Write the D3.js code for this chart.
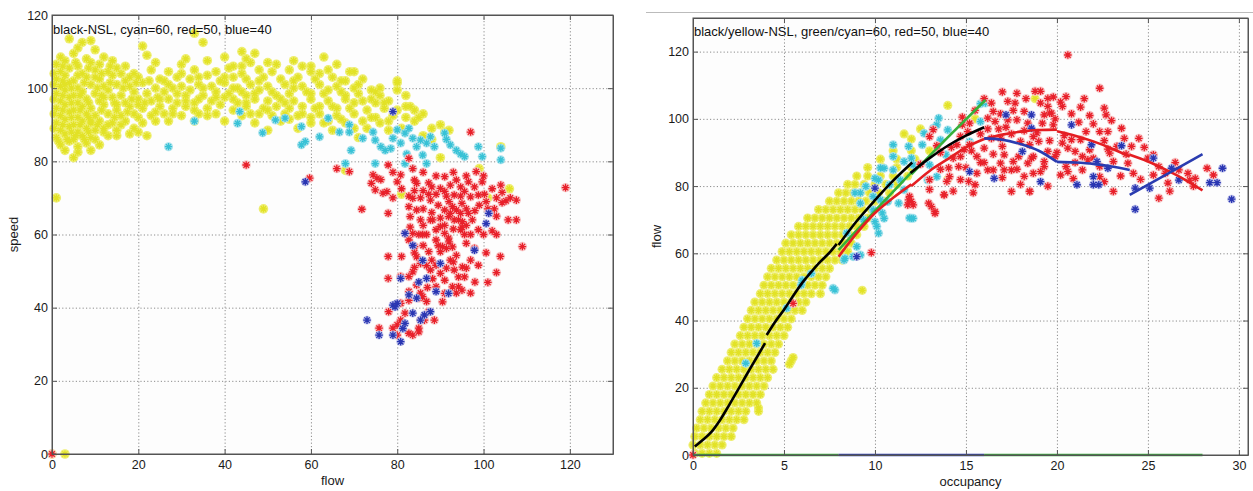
<!DOCTYPE html>
<html><head><meta charset="utf-8">
<script src="https://cdn.jsdelivr.net/npm/d3@7"></script>
<style>body{margin:0;background:#fff}svg{display:block}text{font-family:"Liberation Sans",Arial,sans-serif}</style>
</head><body><svg id="c" width="1253" height="491"></svg>
<script>
// ---------------- LEFT PANEL: flow (x) vs speed (y) ----------------
const leftTitle = "black-NSL, cyan=60, red=50, blue=40";
const leftXTicks = [0,20,40,60,80,100,120];
const leftYTicks = [0,20,40,60,80,100,120];
const speedYellow = [
[4,113.5],[7,112.5],[9,113],[33,115],[35,112.5],[6,111],[10,110.5],[21,111.5],[44,110],[47,109.5],[2,108.5],[5,109.5],[8,108],[12,108.5],[22,109],[31,108],[40,108.5],[45,108],[63,108.5],
[1,106.5],[3,107.5],[6,106],[9,107],[11,106.5],[14,107.5],[17,106],[24,107],[30,106.5],[36,107.5],[42,106],[46,107],[52,106.5],[58,106],[66,106.5],
[2,104.5],[4,105.5],[7,104],[10,105],[13,104.5],[15,105.5],[19,104],[23,105],[27,104.5],[33,105],[38,104.5],[41,105.5],[44,104],[48,105],[51,104.5],[55,105],[60,104.5],[64,105],[70,104.5],
[1,102.5],[3,103.5],[5,102],[8,103],[11,102.5],[14,103.5],[17,102],[20,103],[25,102.5],[29,103],[32,102.5],[36,103.5],[39,102],[42,103],[45,102.5],[49,103],[53,102.5],[57,103],[61,102.5],[65,103],[68,102],[72,102.5],
[2,100.5],[4,101.5],[6,100],[9,101],[12,100.5],[15,101],[18,100.5],[21,101.5],[24,100],[27,101],[30,100.5],[34,101],[37,100.5],[40,101.5],[43,100],[46,101],[50,100.5],[54,101],[58,100.5],[62,101],[66,100.5],[70,100],[74,99.5],[80,101.5],
[1,98.5],[3,99.5],[5,98],[7,99],[10,98.5],[13,99.5],[16,98],[19,99],[22,98.5],[26,99],[29,98.5],[32,99.5],[35,98],[38,99],[41,98.5],[44,99],[47,98.5],[51,99],[55,98.5],[59,99],[63,98.5],[67,99],[71,98.5],[76,98],
[2,96.5],[4,97.5],[6,96],[8,97],[11,96.5],[14,97.5],[17,96],[20,97],[23,96.5],[27,97],[31,96.5],[34,97],[37,96.5],[40,97.5],[43,96],[47,97],[50,96.5],[53,97],[56,96.5],[60,97],[64,96.5],[68,97],[72,96.5],[75,96],[78,96.5],
[1,94.5],[3,95.5],[5,94],[7,95],[9,94.5],[12,95.5],[15,94],[18,95],[21,94.5],[25,95],[28,94.5],[31,95],[36,94.5],[39,95.5],[42,94],[45,95],[49,94.5],[52,95],[55,94.5],[58,95],[61,94.5],[65,95],[69,94.5],[73,94],[77,94.5],[82,95],
[2,92.5],[4,93.5],[6,92],[8,93],[10,92.5],[13,93],[16,92.5],[19,93],[23,92.5],[26,93],[30,92.5],[34,93],[44,92.5],[48,93],[51,92.5],[54,93],[57,92.5],[62,93],[66,92.5],[70,93],[74,92],[79,92.5],[86,93],
[1,90.5],[3,91.5],[5,90],[7,91],[9,90.5],[11,91],[14,90.5],[17,91],[21,90.5],[27,91],[33,91],[47,90.5],[53,91],[60,90.5],[64,91],[68,90.5],[72,91],[76,90.5],[84,91],
[2,88.5],[4,89.5],[6,88],[8,89],[10,88.5],[12,89],[15,88.5],[19,89],[50,88.5],[57,89],[65,88.5],[73,89],[78,88.5],[88,89],[91,88],
[1,86.5],[3,87.5],[5,86],[7,87],[9,86.5],[13,87],[18,87.5],[22,87],[71,86.5],[86,87],
[2,84.5],[4,85.5],[6,84],[8,85],[11,84.5],[3,83],[6,82.5],[9,83],[5,81],
[80,102],[82,98],[83,95],[90,90],[92,88.5],[90,81],[99,78],[104,84],[106,72.5],[101,70],[81,71],[68,77.5],[49,67],[1,70],[0,0],[3,0],
[69,104.5],[75,99],[77,96],[85,92],[88,86],[80,99.5],[60,92],[40,91],[36,92.5]
];
const speedYellowDense = [
[0.5,104],[2.5,106],[5.5,107],[8.5,105.5],[11.5,104],[13.5,106],[16,104],
[0.5,101],[2.5,102],[4.5,100],[7.5,101.5],[10.5,100],[13.5,101.5],[16.5,100],[19.5,101.5],[22.5,102],
[0.5,97],[2.5,98],[4.5,96],[6.5,98],[8.5,96],[11.5,98],[14.5,96],[18.5,97],[21.5,96],[24.5,97.5],
[0.5,93],[2.5,94],[4.5,92],[6.5,94],[8.5,92],[11.5,94],[14.5,92],[17.5,93.5],[20,92],[24,93.5],[28,93],
[0.5,89],[2.5,90],[4.5,88],[6.5,90],[8.5,88],[10.5,90],[13,90],[16,90],[20,88],
[1.5,85.5],[3.5,86],[5.5,87],[7.5,86],[10,86],[12,88],[15,87],
[28,100],[31,98],[33,96],[38,97.5],[42,100],[45,98],[48,99.5],[52,98],[56,100],[60,98.5],[64,99.5],[68,98],[45,96],[50,94],[54,96],[58,93],[62,95],[66,94.5],[70,96],[74,97],[76,100],
[30,104],[34,103],[48,102],[56,102],[62,104],[67,102],[71,101],[25,97],[35,100],[42,97],[38,93],[46,93],[55,91.5],[63,90.5],[67,91.5],[70,89],[75,92],[78,91],[80,94],[82,92],[84,94],[81,89],
[26,102],[18,103],[29,96],[33,94],[24,91],[20,95.5],[10,103],[6,103.5],[3,101],[12,97.5],[15,95.5],[9,91],[40,103],[44,106],[50,107],[56,107.5],[60,106]
];
const speedCyan = [
[27,84],[33,91],[43.5,93.6],[43,90.4],[48.8,87.8],[51.8,91.3],[54,91.8],[57.8,89.5],[57.8,84.5],[58.7,85.4],[62,86.7],[64,91.8],[66.6,88],[68.9,90],[68.9,88],[69.3,83],[68,79.4],
[72,86.3],[74.4,88],[74.9,85.8],[74.9,79.4],[76.2,84],[77.2,83],[78.5,83.5],[79,86.3],[80,88.6],[80.8,85],[81.8,87.7],[82.7,89],[82.2,82],[81.8,79.4],[83.6,86.3],[84.5,84],[85.4,85.8],
[85.9,81.7],[86.8,79.4],[86.8,85],[87.7,86.7],[88.6,84],[91,87.7],[91.4,86],[92.3,84.5],[93.7,83],[94.7,82],[95.6,81.3],[98.8,84],[99.7,81.3],[104,83.6],[104,80.4],[83.6,78]
];
const speedRed = [
[45,79],[59.7,75.4],[66,78],[68.9,77.2],[71.8,66.9],[74.4,76.3],[75.3,75.4],[74,74],[74.9,72.2],[76.2,75],[76.7,71.3],[77.6,71.7],[77.9,65.8],[77.9,54],[77.9,48],[77.9,79],[78,38.9],
[80,74.4],[80.8,76.3],[82.7,80.8],[82.7,70.5],[83.6,69.9],[82.7,67.6],[83.6,78],[84,74.9],[84.5,74],[83,64.9],[84.5,66.7],[85.4,70],[87.3,71],[87.3,74.1],[87.7,69.4],[88.2,64],
[89,71],[90,72.6],[91,75.8],[91,71.8],[91.4,70.5],[92.3,73.5],[93.2,70.8],[93.7,74.9],[94.7,73],[94.7,70.5],[95.6,71.8],[92.8,67.6],[93.7,66.7],[94.7,65.8],[91.9,64.9],[93.2,64],
[94.2,64],[95.1,63.5],[96.5,74.4],[97,70.3],[97.9,73],[98.3,77.2],[98.8,70.8],[99.7,74.4],[100.2,71],[100.6,69],[101,67],[102.5,67],[104,73.5],[104.3,71.5],[104.3,68.7],[105.2,69.2],
[106.2,70],[107.6,69.4],[105.7,64],[107.6,64],[103,65],[102,61],[109,56.7],[119,72.8],[97,88],
[81.8,60.3],[82.7,58.5],[83.6,60.3],[84,56.7],[85,60],[85.9,60],[86.8,60],[87.3,55.3],[84.5,53.9],[85.4,52.1],[83.6,49.8],[86.8,51.5],[87.7,50.3],[89,61.3],[90,62.2],[89,58.5],
[90.5,56.7],[91,60.3],[91.9,59],[90,55.3],[91.4,56.2],[92.8,56.6],[93.7,54.3],[94.7,61.3],[95.6,60],[97,60],[96,57.6],[97.9,56.2],[89,51.6],[90,49.4],[91.4,50.8],[92.3,53],
[93.2,50.3],[94.2,48.4],[95.1,51.1],[96,50.8],[95.6,48.4],[88.2,47.9],[89,45.7],[84.5,46.2],[85.4,44],[85,42.6],[82.7,44.4],[82.7,42],[85.9,43],[86.8,41.7],[90.5,41.6],[91,43.9],
[92.8,45.7],[93.7,44],[94.2,45.7],[95,44.8],[97,44],[98.8,51.6],[100.6,55],[101,46.9],[103.9,54],[103,49.6],[98.8,61.3],[80.8,48.5],[82.7,48.5],[80.8,41.2],[80.8,36.6],[81.8,38.5],
[79,34.4],[80,35.3],[80,32.5],[82.7,33],[83.6,32.5],[85.4,36.6],[85,34.4],[85,33.4],[86.3,36.6],[87.3,38.9],[88.6,36.6],[75.8,34.4],[85.4,64],[87.7,64],[91,66.7],[92.3,65.8],
[96.5,65.8],[97.4,64],[0,0],
[86,72],[88,73],[89.5,68],[92,69],[95,68.5],[96,67],[98,66.5],[99,68],[103,70],[102,72.5],[100,76],[96,76],[93,77],[89,76],[86,77],[84,72],[81,72.5],[79,70],[79,77],[86,67],[88,66],
[90,64.5],[95,62],[93,61.5],[92,58],[89.5,57],[86,57],[84,55],[88,53],[93,52.5],[97,53],[91,47.5],[87,45.5],[84,51],[98,47],[81,54],[83,62],[86,62.5],[91,62.5],[96,62.5],[100,60],[103,60]
];
const speedBlue = [
[79,93.6],[58.7,74.4],[81.8,60.3],[83.6,57],[85.9,52.9],[90,52.1],[85,47],[86.8,48],[80.8,48],[82.7,43.5],[84.5,42.6],[89,44.4],[79,40.7],[80,41.2],[79.5,40.2],[83.6,38.5],
[87.7,38.9],[86.3,38],[85.4,36.6],[73,36.6],[75.8,32.5],[79,32.5],[80.8,30.7],[81.3,34.3],[81.8,35.7],[101.2,65.8],[100.6,63],[97.9,55.7],[91.9,43.9]
];

// ---------------- RIGHT PANEL: occupancy (x) vs flow (y) ----------------
const rightTitle = "black/yellow-NSL, green/cyan=60, red=50, blue=40";
const rightXTicks = [0,5,10,15,20,25,30];
const rightYTicks = [0,20,40,60,80,100,120];
const flowYellowRows = [
[0.5,[0.1,0.5,0.9,1.3]],
[3,[0.0,0.4,0.8,1.2,1.6]],
[5.5,[0.1,0.5,0.9,1.3,1.7,2.1]],
[8,[0.2,0.6,1.0,1.4,1.8,2.2]],
[10.5,[0.4,0.8,1.2,1.6,2.0,2.4,2.8]],
[13,[0.5,0.9,1.3,1.7,2.1,2.5,2.9,3.6]],
[15.5,[0.7,1.1,1.5,1.9,2.3,2.7,3.1,3.5]],
[18,[0.9,1.3,1.7,2.1,2.5,2.9,3.3,3.7]],
[20.5,[1.1,1.5,1.9,2.3,2.7,3.1,3.5,3.9]],
[23,[1.3,1.7,2.1,2.5,2.9,3.3,3.7,4.1]],
[25.5,[1.6,2.0,2.4,2.8,3.2,3.6,4.0,4.4]],
[28,[1.9,2.3,2.7,3.1,3.5,3.9,4.3,5.4]],
[30.5,[2.1,2.5,2.9,3.3,3.7,4.1,4.5]],
[33,[2.3,2.7,3.1,3.5,3.9,4.3,4.7]],
[35.5,[2.6,3.0,3.4,3.8,4.2,4.6,5.0]],
[38,[2.8,3.2,3.6,4.0,4.4,4.8,5.2]],
[40.5,[3.0,3.4,3.8,4.2,4.6,5.0,5.4]],
[43,[3.2,3.6,4.0,4.4,4.8,5.2,5.6,6.0]],
[45.5,[3.4,3.8,4.2,4.6,5.0,5.4,5.8,6.2]],
[48,[3.7,4.1,4.5,4.9,5.3,5.7,6.1,6.5,7.0]],
[50.5,[3.9,4.3,4.7,5.1,5.5,5.9,6.3,6.7,7.1]],
[53,[4.1,4.5,4.9,5.3,5.7,6.1,6.5,6.9,7.3]],
[55.5,[4.3,4.7,5.1,5.5,5.9,6.3,6.7,7.1,7.5]],
[58,[4.6,5.0,5.4,5.8,6.2,6.6,7.0,7.4,7.8,8.2]],
[60.5,[4.9,5.3,5.7,6.1,6.5,6.9,7.3,7.7,8.1,8.5]],
[63,[5.1,5.5,5.9,6.3,6.7,7.1,7.5,7.9,8.3,8.7]],
[65.5,[5.4,5.8,6.2,6.6,7.0,7.4,7.8,8.2,8.6,9.0]],
[68,[5.8,6.2,6.6,7.0,7.4,7.8,8.2,8.6,9.0,9.4]],
[70.5,[6.3,6.7,7.1,7.5,7.9,8.3,8.7,9.1,9.6]],
[73,[6.9,7.3,7.7,8.1,8.5,8.9,9.3,9.8]],
[75.5,[7.5,7.9,8.3,8.7,9.1,9.5,10.0,10.5]],
[78,[8.0,8.4,8.8,9.2,9.7,10.2,10.8]],
[80.5,[8.5,8.9,9.4,10.0,10.6,11.2]],
[83,[9.0,9.6,10.3,11.0,11.8]],
[85.5,[9.6,10.4,11.2,12.0]],
[88,[10.3,11.2,12.2]],
[90.5,[11.0,12.0,13.0]]
];
const flowYellowExtra = [[14,104],[15.5,100],[18.8,106],[12.5,97],[9.3,49],[5.5,29],[5.3,27],[3.6,14],[14,82],[12,94],[11.6,95.5]];
const flowCyan = [
[2.9,27.3],[3.5,33.2],[5.95,50.6],[7.8,49.1],[8.35,58.5],[8.8,59],[9.2,59.5],[9,62],[9.2,78],[8.9,78],[9.2,74.9],[9.9,72.9],[10,69.4],[10.2,66],[10.5,70.4],[10.3,75.9],
[10.2,81.8],[10.5,85.3],[11,88.8],[11,92.3],[11.85,91.8],[12.1,86.3],[12.1,70.4],[11.85,74.9],[11.6,78.9],[12.6,92.3],[12.7,95.7],[13.2,97.2],[13.5,100.2],[13.6,93.7],[13.9,89.3],
[13.4,82.8],[12.9,81.8],[15.8,104.5],[6.0,52],[6.5,54],[5.15,43.7],[7.7,49.6],[8.3,58],[8.45,66],[9.37,70],[10.1,68],[10.4,72],[11.9,70.5],[13.4,98.2],[14.0,96.7],
[10.3,85.4],[11.0,84.8],[11.6,87.3],[12.0,88.3],[13.0,86.3],[10.0,82.3],[10.8,80.4],[11.4,81.8],[9.5,79.9],[9.9,76.9],[10.7,75.4],[11.3,74.9],[12.0,70.4],[15.2,93.2],[16.07,104.7],[15.8,99.2]
];
const flowRed = [
[17.8,107.6],[17.3,105.2],[17.7,104.7],[18.8,108.2],[19.1,108.2],[18.2,102.2],[16.4,104.7],[16.5,102.2],[16.2,100.2],[16.6,99.2],[17.3,99.7],[17.8,99.7],[18.4,98.7],[19.1,104.7],
[19.5,103.7],[19.3,101.2],[19.7,101.7],[19.2,98.7],[19.8,98.2],[18.7,94.7],[18,93.3],[18.5,92.3],[19,93.3],[19.5,90.3],[18.6,88.3],[19.3,85.8],[18.7,83.8],[18.2,82.9],[17.6,87.3],
[17.1,89.3],[16.9,86.8],[16.2,84.8],[16.5,84.8],[15.6,83.8],[15.15,81.4],[15.5,80.4],[14.7,88.8],[14.9,90.8],[14.5,92.3],[15.2,92.3],[14.7,94.8],[15.1,96.2],[15.2,98.7],[14.8,98.2],
[14.3,88.3],[14.6,85.8],[14.05,85.4],[14.1,82.8],[13.95,81.4],[14.7,81.9],[13.6,85],[13.2,96.8],[13.0,94.7],[13.8,77.4],[12.95,74.9],[13.1,73.9],[13.3,71.9],[11.9,76.9],[12.0,75.4],
[11.8,74.4],[13.0,81.9],[15.6,88.8],[16.0,91.3],[16.4,94.2],[16.9,94.2],[17.5,78.4],[18.5,78.4],
[20.6,119],[20.5,106.6],[20.3,103.7],[19.5,106.1],[19.6,101.7],[22.35,109.1],[22.6,103.2],[22.7,101.2],[22.35,96.2],[22.8,96.2],[23.55,97.2],[23.7,94.2],[24.1,91.8],[24.5,94.2],
[23.3,91.8],[21.6,96.2],[21.3,93.8],[20.8,93.8],[20.6,91.3],[20.3,92.8],[21,90.3],[21.4,88.8],[21.7,87.8],[22,88.3],[22.35,85.8],[22.9,89.8],[23.1,87.3],[22.35,82.8],[22.6,81.3],
[23.1,78.4],[23.9,86.8],[24.2,83.8],[25,88.3],[25.3,89.3],[25.6,85.8],[25.95,83.8],[26.1,80.9],[25.6,76.4],[25.3,83.3],[26.7,84.8],[27.2,83.8],[27.3,81.8],[27.6,82.3],[28.25,85.3],
[28.6,83.3],[20.5,85.8],[20.6,84.3],[19.1,84.3],[18.5,78.4],[19.3,87.3],[19.9,88.8],[18.4,86.8],[17.9,88.8],[17.5,84.8],[17.1,84.8],[18.7,88.8],[20.2,83.3],
[13.3,72.4],[13.8,77.4],[11.85,75.9],[12.1,74.4],[9.8,60.2],[5.5,45.1],[0,0],
[17,91.8],[17.5,95.5],[18.2,96.5],[16.8,97],[17.8,85],[16.5,89.5],[15.8,87],[15.3,90.5],[14.2,91.5],[13.6,90],[14.8,100.5],[15.5,102.5],[16.0,106],[17.0,108],[18.3,106],[19.8,106.5],
[20.8,101.5],[21.2,99],[21.8,101],[20.4,95],[19.6,93.5],[21.4,84.8],[20.9,82.2],[22.8,91],[21.5,106],[16.9,101.5],
[16,87],[17,82.5],[18,80.5],[19.5,80],[20,90],[21,87],[20.2,105],[17.6,102.5],[16.2,97],[15,85.5],[15.8,95.5],[17.2,97.5],[18.9,95.8],[19.9,100],[21.3,103.5],[22,98.5],[23,99.5],
[22.6,93.5],[21.8,90.8],[23.8,89.5],[24.8,91.5],[26.5,87],[27.5,80],[24.6,82],[23.5,83],[26.2,78.5],[14.3,78.5],[15.4,78],[13,79],[12.5,86.5],[13.4,92]
];
const flowBlue = [
[10,79.4],[9,59],[15.2,84.3],[16.55,82.3],[17.2,101.2],[18.1,90.3],[18.6,101.2],[18.6,97.2],[19.1,81.3],[20.8,98.2],[21.1,80.4],[22,82.8],[22,80.4],[22.3,80.4],[21.9,92.3],
[23.55,92],[22.2,87.3],[22.8,85.3],[24.3,79.4],[24.3,73.1],[25.1,79.4],[25.3,88.3],[26.3,85.3],[26.7,81.8],[28.4,81],[28.8,81],[29.1,85.3],[29.6,76.1]
];
// fitted lines
const blackLines = [
[[0.1,2.5],[0.5,4.3],[1,6.8],[1.5,10.5],[2,15],[2.5,19.7],[3,24.4],[3.5,29],[3.96,33.3]],
[[4.05,35.7],[4.5,39.5],[5,43.2],[5.5,47.3],[6,51.2],[6.5,54.5],[7,57.5],[7.5,60.2],[7.9,62.8]],
[[8,62.5],[9,69.6],[10,75.8],[11,81.6],[12.05,87]],
[[11.95,83.9],[13,88.3],[14,92],[15,95],[16,97.5]]
];
const greenLines = [
[[8,61],[10,72.6],[12.04,84.3]],
[[12,83.5],[14,94.5],[16.07,105.6]]
];
const redLines = [
[[8,59],[9,66],[10,72],[11,76.5],[12,80.5]],
[[12,80],[13,84.5],[14,88],[15,91.5],[16,94]],
[[16,94],[17,95.3],[18,96.2],[19,96.7],[20,96.8]],
[[20,96.3],[21,95],[22,93.3],[23,91.2],[24,88.8]],
[[24,89.3],[25,87.3],[26,84.8],[27,82],[28,78.7]]
];
const blueLines = [
[[16,94.2],[17,93.8],[18,92.5],[19,90.5],[20,87.2]],
[[20,87.2],[21,87],[22,86.6],[23,85.8],[24,84.8]],
[[24,77.4],[26,83.4],[28,89.5]]
];
const baseGreen1 = [[0,0],[8,0]];
const baseBlue = [[8,0],[16,0]];
const baseGreen2 = [[16,0],[28,0]];

// ---------------- drawing ----------------
const svg = d3.select('#c');
svg.append('rect').attr('width',1253).attr('height',491).attr('fill','#fff');

const COL = {
  yellow:{s:'#e2e226',h:'#eeee70'},
  cyan:{s:'#38c2d6',h:'#a8e2ec'},
  red:{s:'#e8202a',h:'#f8c4c4'},
  blue:{s:'#2a36b2',h:'#bcc0ea'}
};
function star(r){const a=r*0.72;return `M${-r},0H${r}M0,${-r}V${r}M${-a},${-a}L${a},${a}M${-a},${a}L${a},${-a}`;}

function makePanel(o){
  const g = svg.append('g');
  const x = d3.scaleLinear().domain(o.xd).range([o.l,o.r]);
  const y = d3.scaleLinear().domain(o.yd).range([o.b,o.t]);
  g.append('rect').attr('x',o.l).attr('y',o.t).attr('width',o.r-o.l).attr('height',o.b-o.t).attr('fill','#fdfdfd');
  const styleGrid = s=>{s.select('.domain').remove();s.selectAll('line').attr('stroke','#8c8c8c').attr('stroke-width',1).attr('stroke-dasharray','1.2,2.2');};
  g.append('g').attr('transform',`translate(0,${o.b})`).call(d3.axisBottom(x).tickValues(o.xt).tickSize(-(o.b-o.t)).tickFormat('')).call(styleGrid);
  g.append('g').attr('transform',`translate(${o.l},0)`).call(d3.axisLeft(y).tickValues(o.yt).tickSize(-(o.r-o.l)).tickFormat('')).call(styleGrid);
  return {g,x,y,o};
}
function scatter(p,data,col,r,hr,op){
  const gh = p.g.append('g');
  gh.selectAll('circle').data(data).join('circle').attr('cx',d=>p.x(d[0])).attr('cy',d=>p.y(d[1])).attr('r',hr).attr('fill',col.h).attr('opacity',op);
  const gs = p.g.append('g');
  gs.selectAll('path').data(data).join('path').attr('transform',d=>`translate(${p.x(d[0])},${p.y(d[1])})`).attr('d',star(r)).attr('fill','none').attr('stroke',col.s).attr('stroke-width',1.3);
}
function lines(p,segs,color,w){
  const ln = d3.line().x(d=>p.x(d[0])).y(d=>p.y(d[1])).curve(d3.curveMonotoneX);
  p.g.append('g').selectAll('path').data(segs).join('path').attr('d',ln).attr('fill','none').attr('stroke',color).attr('stroke-width',w).attr('stroke-linecap','butt');
}
function frame(p,xlab,ylab,ylx,title,titleY){
  const o=p.o, g=p.g;
  const st = s=>{s.select('.domain').attr('stroke','#555');s.selectAll('line').attr('stroke','#555');s.selectAll('text').attr('fill','#1a1a1a').attr('font-size','12.5px').attr('font-family','"Liberation Sans",Arial,sans-serif');};
  g.append('g').attr('transform',`translate(0,${o.b})`).call(d3.axisBottom(p.x).tickValues(o.xt).tickSizeInner(-5).tickSizeOuter(0).tickPadding(6)).call(st);
  g.append('g').attr('transform',`translate(0,${o.t})`).call(d3.axisTop(p.x).tickValues(o.xt).tickSizeInner(-5).tickSizeOuter(0).tickFormat('')).call(st);
  g.append('g').attr('transform',`translate(${o.l},0)`).call(d3.axisLeft(p.y).tickValues(o.yt).tickSizeInner(-5).tickSizeOuter(0).tickPadding(4)).call(st);
  g.append('g').attr('transform',`translate(${o.r},0)`).call(d3.axisRight(p.y).tickValues(o.yt).tickSizeInner(-5).tickSizeOuter(0).tickFormat('')).call(st);
  g.append('rect').attr('x',o.l).attr('y',o.t).attr('width',o.r-o.l).attr('height',o.b-o.t).attr('fill','none').attr('stroke','#555');
  g.append('text').attr('x',(o.l+o.r)/2).attr('y',o.b+31).attr('text-anchor','middle').attr('font-size','13px').attr('fill','#1a1a1a').text(xlab);
  g.append('text').attr('transform',`translate(${ylx},${(o.t+o.b)/2}) rotate(-90)`).attr('text-anchor','middle').attr('font-size','13px').attr('fill','#1a1a1a').text(ylab);
  g.append('text').attr('x',o.l+1).attr('y',titleY).attr('font-size','13px').attr('fill','#111').text(title);
}

// left
const L = makePanel({l:52,r:613,t:15,b:454,xd:[0,130],yd:[0,120],xt:leftXTicks,yt:leftYTicks});
scatter(L,speedYellow.concat(speedYellowDense),COL.yellow,3.6,4.8,1);
scatter(L,speedCyan,COL.cyan,3.6,4.5,0.95);
scatter(L,speedRed,COL.red,3.8,4.7,0.9);
scatter(L,speedBlue,COL.blue,3.8,4.4,0.9);
frame(L,'flow','speed',18,leftTitle,34);

// right
const flowYellow = flowYellowRows.flatMap(([fy,xs])=>xs.map(ox=>[ox,fy])).concat(flowYellowExtra);
svg.append('line').attr('x1',646).attr('x2',1253).attr('y1',12.5).attr('y2',12.5).attr('stroke','#bbb').attr('stroke-width',1.2);
const R = makePanel({l:693,r:1248,t:18,b:455,xd:[0,30.5],yd:[0,130],xt:rightXTicks,yt:rightYTicks});
scatter(R,flowYellow,COL.yellow,3.4,4.6,1);
scatter(R,flowCyan,COL.cyan,3.6,4.5,0.95);
scatter(R,flowRed,COL.red,3.8,4.7,0.9);
scatter(R,flowBlue,COL.blue,3.8,4.4,0.9);
lines(R,greenLines,'#36b03a',2.6);
lines(R,blackLines,'#000',2.6);
lines(R,redLines,'#e41e22',2.6);
lines(R,blueLines,'#2a3cb0',2.6);
lines(R,[baseGreen1],'#36b03a',2.6);
lines(R,[baseBlue],'#2a3cb0',2.6);
lines(R,[baseGreen2],'#36b03a',2.6);
frame(R,'occupancy','flow',661,rightTitle,36);
</script></body></html>
